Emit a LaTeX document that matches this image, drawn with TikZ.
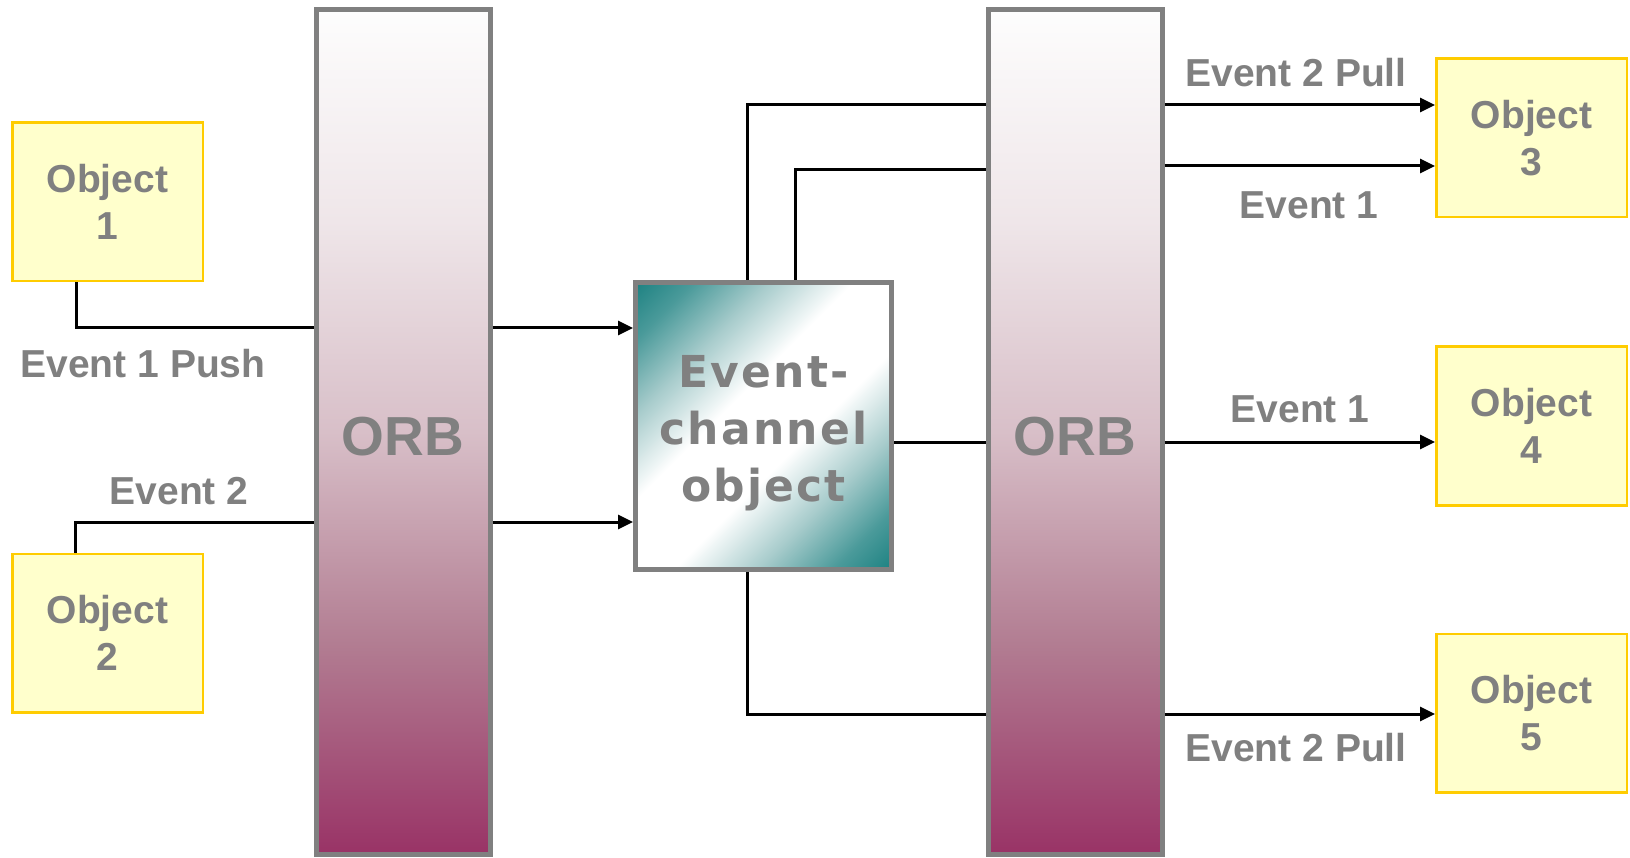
\documentclass[tikz,border=0pt]{standalone}
\usepackage{fontspec}
\setmainfont{Liberation Sans}
\newfontfamily\chanfont[LetterSpace=5]{DejaVu Sans}
\usetikzlibrary{arrows.meta}

\definecolor{txtgray}{HTML}{808080}
\definecolor{framegray}{HTML}{808080}
\definecolor{objfill}{HTML}{FFFFCC}
\definecolor{objedge}{HTML}{FFCC00}
\definecolor{orbtop}{HTML}{FDFDFD}
\definecolor{orbhi}{HTML}{EFE6E9}
\definecolor{orbmid}{HTML}{D8BFC8}
\definecolor{orblo}{HTML}{B27D92}
\definecolor{orbbot}{HTML}{993366}
\definecolor{chteal}{HTML}{1A8080}
\definecolor{chdeep}{HTML}{4A9A9A}
\definecolor{chsoft}{HTML}{A8CCCC}

% vertical fade of the two ORB bars (25bp..75bp covers the node)
\pgfdeclareverticalshading{orbshade}{100bp}{color(0bp)=(orbbot); color(25bp)=(orbbot);
  color(37.5bp)=(orblo); color(50bp)=(orbmid); color(62.5bp)=(orbhi);
  color(75bp)=(orbtop); color(100bp)=(orbtop)}
% teal corners with a white diagonal band for the event channel
\pgfdeclareverticalshading{chanshade}{100bp}{color(0bp)=(chteal); color(14bp)=(chteal);
  color(22bp)=(chdeep); color(32bp)=(chsoft); color(43bp)=(white); color(57bp)=(white);
  color(68bp)=(chsoft); color(78bp)=(chdeep); color(86bp)=(chteal); color(100bp)=(chteal)}

\begin{document}
\begin{tikzpicture}[x=1pt,y=-1pt,
  lbl/.style={text=txtgray,font=\bfseries\fontsize{39}{47}\selectfont,inner sep=0pt},
  objbox/.style={draw=objedge,fill=objfill,line width=2.5pt,minimum width=190.5pt,
    minimum height=158.5pt,align=center,text=txtgray,
    font=\bfseries\fontsize{39}{47}\selectfont},
  orbbar/.style={draw=framegray,line width=5pt,shade,shading=orbshade,
    minimum width=174pt,minimum height=844pt},
  orbtext/.style={text=txtgray,font=\bfseries\fontsize{55}{60}\selectfont,inner sep=0pt},
  chanbox/.style={draw=framegray,line width=5pt,shade,shading=chanshade,shading angle=45,
    minimum width=256pt,minimum height=287pt},
  chantext/.style={text=txtgray,align=center,text depth=0pt,
    font=\chanfont\bfseries\fontsize{44}{57}\selectfont},
  wire/.style={line width=3pt,black},
  feed/.style={wire,-{Triangle[length=15pt,width=14pt]}}
]
\useasboundingbox (0,0) rectangle (1630,858);

% ORB bars
\node[orbbar] (orbL) at (403,432) {};
\node[orbbar] (orbR) at (1075,432) {};
\node[orbtext] (orbLtxt) at (403,437) {ORB};
\node[orbtext] (orbRtxt) at (1075,437) {ORB};

% event channel
\node[chanbox] (chan) at (763.5,426) {};
\node[chantext] (chantxt) at (763.5,428) {Event-\\channel\\object};

% objects
\node[objbox] (obj1) at (107.5,202) {Object\\1};
\node[objbox] (obj2) at (107.5,633) {Object\\2};
\node[objbox] (obj3) at (1531.5,138) {Object\\3};
\node[objbox] (obj4) at (1531.5,426) {Object\\4};
\node[objbox] (obj5) at (1531.5,713) {Object\\5};

% suppliers into the left ORB
\draw[wire] ([xshift=-31.5pt]obj1.south) |- (orbL.west |- 0,328);
\draw[wire] ([xshift=-32.5pt]obj2.north) |- (orbL.west |- 0,522);

% left ORB into the channel
\draw[feed] (orbL.east |- 0,328) -- (chan.west |- 0,328);
\draw[feed] (orbL.east |- 0,522) -- (chan.west |- 0,522);

% channel out to the right ORB
\draw[wire] ([xshift=-16.5pt]chan.north) |- (orbR.west |- 0,105);
\draw[wire] ([xshift=31.5pt]chan.north) |- (orbR.west |- 0,170);
\draw[wire] (chan.east |- 0,442) -- (orbR.west |- 0,442);
\draw[wire] ([xshift=-16.5pt]chan.south) |- (orbR.west |- 0,714);

% right ORB to the consumers
\draw[feed] (orbR.east |- 0,105) -- (obj3.west |- 0,105);
\draw[feed] (orbR.east |- 0,166) -- (obj3.west |- 0,166);
\draw[feed] (orbR.east |- 0,442) -- (obj4.west |- 0,442);
\draw[feed] (orbR.east |- 0,714) -- (obj5.west |- 0,714);

% labels
\node[lbl] (lpush) at (143,364) {Event 1 Push};
\node[lbl] (lev2) at (179,491) {Event 2};
\node[lbl] (lpullA) at (1296,73) {Event 2 Pull};
\node[lbl] (lev1A) at (1309,205) {Event 1};
\node[lbl] (lev1B) at (1300,409) {Event 1};
\node[lbl] (lpullB) at (1296,748) {Event 2 Pull};
\end{tikzpicture}
\end{document}
